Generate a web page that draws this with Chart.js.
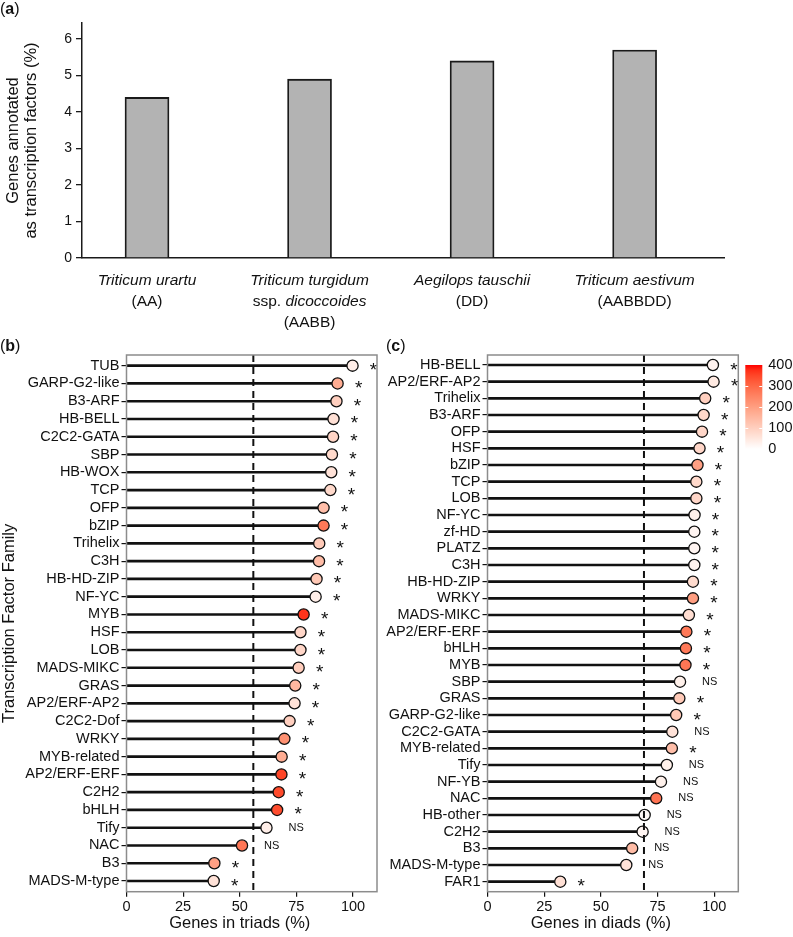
<!DOCTYPE html>
<html>
<head>
<meta charset="utf-8">
<script src="https://cdn.jsdelivr.net/npm/chart.js@4.4.1/dist/chart.umd.min.js"></script>
<style>
  body { margin: 0; background: #fff; font-family: 'Liberation Sans', Arial, sans-serif; }
  #fig { position: relative; width: 793px; height: 937px; background: #fff; }
  .panel { position: absolute; }
  .tag { position: absolute; font-size: 16px; line-height: 18px; color: #111; z-index: 2; }
</style>
</head>
<body>
<div id="fig">
  <div class="panel" style="left:0;top:0;width:793px;height:335px"><canvas id="chartA"></canvas></div>
  <div class="panel" style="left:0;top:335px;width:395px;height:602px"><canvas id="chartB"></canvas></div>
  <div class="panel" style="left:380px;top:335px;width:413px;height:602px"><canvas id="chartC"></canvas></div>
  <div class="tag" style="left:0;top:0">(<b>a</b>)</div>
  <div class="tag" style="left:0;top:337px">(<b>b</b>)</div>
  <div class="tag" style="left:386px;top:337px">(<b>c</b>)</div>
</div>
<script>
// panel (a): share of genes annotated as transcription factors
const speciesLabels = [
  [[['Triticum urartu', true]], [['(AA)', false]]],
  [[['Triticum turgidum', true]], [['ssp. ', false], ['dicoccoides', true]], [['(AABB)', false]]],
  [[['Aegilops tauschii', true]], [['(DD)', false]]],
  [[['Triticum aestivum', true]], [['(AABBDD)', false]]]
];
const tfShare = [4.4, 4.9, 5.4, 5.7];
const shareTicks = [0, 1, 2, 3, 4, 5, 6];

// panel (b): genes in triads
const familiesB = ['TUB', 'GARP-G2-like', 'B3-ARF', 'HB-BELL', 'C2C2-GATA', 'SBP', 'HB-WOX', 'TCP', 'OFP', 'bZIP',
  'Trihelix', 'C3H', 'HB-HD-ZIP', 'NF-YC', 'MYB', 'HSF', 'LOB', 'MADS-MIKC', 'GRAS', 'AP2/ERF-AP2',
  'C2C2-Dof', 'WRKY', 'MYB-related', 'AP2/ERF-ERF', 'C2H2', 'bHLH', 'Tify', 'NAC', 'B3', 'MADS-M-type'];
const triadPct = [99.8, 93.2, 92.7, 91.4, 91.2, 90.7, 90.4, 90.0, 87.0, 87.0,
  85.1, 85.0, 83.9, 83.5, 78.2, 76.8, 76.8, 76.0, 74.5, 74.2,
  72.0, 69.7, 68.5, 68.4, 67.2, 66.5, 61.8, 51.0, 38.8, 38.5];
const triadCount = [35, 170, 100, 65, 90, 80, 60, 80, 135, 270,
  110, 140, 115, 35, 370, 85, 85, 105, 150, 60,
  100, 225, 170, 350, 345, 340, 35, 275, 195, 60];
const triadSig = ['*', '*', '*', '*', '*', '*', '*', '*', '*', '*',
  '*', '*', '*', '*', '*', '*', '*', '*', '*', '*',
  '*', '*', '*', '*', '*', '*', 'NS', 'NS', '*', '*'];
const triadRef = 56;

// panel (c): genes in diads
const familiesC = ['HB-BELL', 'AP2/ERF-AP2', 'Trihelix', 'B3-ARF', 'OFP', 'HSF', 'bZIP', 'TCP', 'LOB', 'NF-YC',
  'zf-HD', 'PLATZ', 'C3H', 'HB-HD-ZIP', 'WRKY', 'MADS-MIKC', 'AP2/ERF-ERF', 'bHLH', 'MYB', 'SBP',
  'GRAS', 'GARP-G2-like', 'C2C2-GATA', 'MYB-related', 'Tify', 'NF-YB', 'NAC', 'HB-other', 'C2H2', 'B3',
  'MADS-M-type', 'FAR1'];
const diadPct = [99.4, 99.7, 96.0, 95.3, 94.6, 93.5, 92.6, 92.1, 92.1, 91.3,
  91.2, 91.2, 91.2, 90.6, 90.6, 88.8, 87.7, 87.5, 87.3, 84.9,
  84.6, 83.2, 81.5, 81.3, 79.1, 76.5, 74.4, 69.3, 68.4, 63.8,
  61.2, 32.1];
const diadCount = [25, 45, 100, 80, 85, 85, 195, 80, 85, 30,
  20, 20, 25, 75, 200, 70, 270, 270, 275, 30,
  110, 115, 60, 135, 30, 30, 280, 10, 20, 140,
  60, 65];
const diadSig = ['*', '*', '*', '*', '*', '*', '*', '*', '*', '*',
  '*', '*', '*', '*', '*', '*', '*', '*', '*', 'NS',
  '*', '*', 'NS', '*', 'NS', 'NS', 'NS', 'NS', 'NS', 'NS',
  'NS', '*'];
const diadRef = 69;

const pctTicks = [0, 25, 50, 75, 100];
const countTicks = [0, 100, 200, 300, 400];
const countMax = 400;

const ink = '#111';
Chart.defaults.font.family = "'Liberation Sans', Arial, sans-serif";
Chart.defaults.color = ink;

// white -> red, interpolated in Lab like ggplot's gradient
function countColor(n) {
  const t = Math.max(0, Math.min(1, n / countMax));
  const L = 100 + (53.24 - 100) * t, A = 80.09 * t, B = 67.2 * t;
  const fy = (L + 16) / 116, fx = fy + A / 500, fz = fy - B / 200;
  const inv = v => v ** 3 > 0.008856 ? v ** 3 : (v - 16 / 116) / 7.787;
  const X = 0.95047 * inv(fx), Y = inv(fy), Z = 1.08883 * inv(fz);
  const lin = [3.2406 * X - 1.5372 * Y - 0.4986 * Z,
    -0.9689 * X + 1.8758 * Y + 0.0415 * Z,
    0.0557 * X - 0.2040 * Y + 1.0570 * Z];
  const rgb = lin.map(c => {
    c = c > 0.0031308 ? 1.055 * Math.pow(c, 1 / 2.4) - 0.055 : 12.92 * c;
    return Math.round(Math.min(1, Math.max(0, c)) * 255);
  });
  return 'rgb(' + rgb.join(',') + ')';
}

// species names under the bars, italic where needed
const speciesLabelPlugin = {
  id: 'speciesLabels',
  afterDraw(chart) {
    const { ctx, chartArea, scales: { x } } = chart;
    const font = it => (it ? 'italic ' : '') + "15.5px 'Liberation Sans', Arial, sans-serif";
    ctx.save();
    ctx.fillStyle = ink;
    ctx.textBaseline = 'middle';
    ctx.textAlign = 'left';
    speciesLabels.forEach((lines, i) => {
      const cx = x.getPixelForValue(i + 1);
      lines.forEach((segs, j) => {
        const cy = chartArea.bottom + 23 + j * 21;
        let w = 0;
        segs.forEach(([t, it]) => { ctx.font = font(it); w += ctx.measureText(t).width; });
        let sx = cx - w / 2;
        segs.forEach(([t, it]) => {
          ctx.font = font(it);
          ctx.fillText(t, sx, cy);
          sx += ctx.measureText(t).width;
        });
      });
    });
    ctx.restore();
  }
};

// reference line, panel box, significance marks and x title
const lollipopDecor = {
  id: 'lollipopDecor',
  afterDatasetsDraw(chart, args, opts) {
    const { ctx, chartArea: a, scales: { x, y } } = chart;
    ctx.save();
    const rx = x.getPixelForValue(opts.ref);
    ctx.strokeStyle = ink;
    ctx.lineWidth = 2;
    ctx.setLineDash([7, 5]);
    ctx.beginPath();
    ctx.moveTo(rx, a.top);
    ctx.lineTo(rx, a.bottom);
    ctx.stroke();
    ctx.setLineDash([]);

    ctx.fillStyle = ink;
    ctx.font = "19px 'Liberation Sans', Arial, sans-serif";
    const m = ctx.measureText('*');
    const starShift = (m.actualBoundingBoxAscent - m.actualBoundingBoxDescent) / 2 + 1;
    opts.values.forEach((v, i) => {
      const px = x.getPixelForValue(v), py = y.getPixelForValue(i);
      if (opts.sig[i] === '*') {
        ctx.font = "19px 'Liberation Sans', Arial, sans-serif";
        ctx.textAlign = 'center';
        ctx.textBaseline = 'alphabetic';
        ctx.fillText('*', px + 21, py + starShift);
      } else {
        ctx.font = "11px 'Liberation Sans', Arial, sans-serif";
        ctx.textAlign = 'left';
        ctx.textBaseline = 'middle';
        ctx.fillText(opts.sig[i], px + 22, py);
      }
    });
    ctx.restore();
  },
  afterDraw(chart, args, opts) {
    const { ctx, chartArea: a, scales: { x } } = chart;
    ctx.save();
    ctx.strokeStyle = '#8c8c8c';
    ctx.lineWidth = 1.5;
    ctx.strokeRect(a.left, a.top, a.width, a.height);
    ctx.fillStyle = ink;
    ctx.font = "16.5px 'Liberation Sans', Arial, sans-serif";
    ctx.textAlign = 'center';
    ctx.textBaseline = 'middle';
    ctx.fillText(opts.title, x.getPixelForValue(50), a.bottom + 32);
    ctx.restore();
  }
};

// colour bar for the gene counts
const countLegend = {
  id: 'countLegend',
  afterDraw(chart) {
    const { ctx, chartArea: a } = chart;
    const bx = a.right + 7, bw = 17;
    const yOf = v => a.top + 10 + (countMax - v) * 0.21;
    ctx.save();
    const g = ctx.createLinearGradient(0, yOf(countMax), 0, yOf(0));
    for (let v = countMax; v >= 0; v -= 25) g.addColorStop((countMax - v) / countMax, countColor(v));
    ctx.fillStyle = g;
    ctx.fillRect(bx, yOf(countMax), bw, yOf(0) - yOf(countMax));
    ctx.strokeStyle = '#fff';
    ctx.lineWidth = 1;
    ctx.font = "14.5px 'Liberation Sans', Arial, sans-serif";
    ctx.textAlign = 'left';
    ctx.textBaseline = 'middle';
    countTicks.forEach(v => {
      const ty = Math.round(yOf(v)) + 0.5;
      if (v > 0 && v < countMax) {
        ctx.beginPath();
        ctx.moveTo(bx, ty); ctx.lineTo(bx + 3, ty);
        ctx.moveTo(bx + bw - 3, ty); ctx.lineTo(bx + bw, ty);
        ctx.stroke();
      }
      ctx.fillStyle = ink;
      ctx.fillText(String(v), bx + bw + 6, yOf(v));
    });
    ctx.restore();
  }
};

new Chart(document.getElementById('chartA'), {
  type: 'bar',
  data: {
    datasets: [{
      data: tfShare.map((v, i) => ({ x: i + 1, y: v })),
      backgroundColor: '#b3b3b3',
      borderColor: '#1a1a1a',
      borderWidth: 1.8,
      barThickness: 44
    }]
  },
  options: {
    responsive: true,
    maintainAspectRatio: false,
    animation: false,
    layout: { padding: { top: 23, right: 69, left: 0, bottom: 0 } },
    plugins: { legend: { display: false }, tooltip: { enabled: false } },
    scales: {
      x: {
        type: 'linear', min: 0.6, max: 4.55, offset: false,
        grid: { drawOnChartArea: false, drawTicks: false, offset: false },
        border: { color: '#1a1a1a', width: 1.5 },
        ticks: { display: false },
        afterFit: s => { s.height = 77; }
      },
      y: {
        min: 0, max: 6.44,
        afterBuildTicks: s => { s.ticks = shareTicks.map(v => ({ value: v })); },
        grid: { drawOnChartArea: false, tickLength: 6, color: '#1a1a1a', lineWidth: 1.3 },
        border: { color: '#1a1a1a', width: 1.5 },
        ticks: { font: { size: 14 }, color: ink, padding: 4 },
        title: {
          display: true,
          text: ['Genes annotated', 'as transcription factors (%)'],
          font: { size: 16.5, lineHeight: 1.12 },
          color: ink,
          padding: { top: 4, bottom: 0 }
        },
        afterFit: s => { s.width = 82; }
      }
    }
  },
  plugins: [speciesLabelPlugin]
});

function lollipopChart(id, families, values, counts, sig, ref, title, yTitle, yWidth, padRight, extra) {
  return new Chart(document.getElementById(id), {
    type: 'bar',
    data: {
      datasets: [{
        type: 'bar',
        data: values.map((v, i) => ({ x: v, y: i })),
        backgroundColor: ink,
        borderWidth: 0,
        barThickness: 2,
        order: 2
      }, {
        type: 'scatter',
        data: values.map((v, i) => ({ x: v, y: i })),
        pointRadius: 5.6,
        pointBackgroundColor: counts.map(countColor),
        pointBorderColor: ink,
        pointBorderWidth: 1.3,
        order: 1
      }]
    },
    options: {
      indexAxis: 'y',
      responsive: true,
      maintainAspectRatio: false,
      animation: false,
      layout: { padding: { top: 20, right: padRight, left: 0, bottom: 0 } },
      plugins: {
        legend: { display: false },
        tooltip: { enabled: false },
        lollipopDecor: { ref: ref, values: values, sig: sig, title: title }
      },
      scales: {
        x: {
          type: 'linear', min: 0, max: 110.6, offset: false,
          afterBuildTicks: s => { s.ticks = pctTicks.map(v => ({ value: v })); },
          grid: { drawOnChartArea: false, tickLength: 5, color: ink, lineWidth: 1.2, offset: false },
          border: { display: false },
          ticks: { font: { size: 14.5 }, color: ink, padding: 2, autoSkip: false, maxRotation: 0 },
          afterFit: s => { s.height = 45.3; }
        },
        y: {
          type: 'linear', reverse: true, min: -0.6, max: families.length - 0.4, offset: false,
          afterBuildTicks: s => { s.ticks = families.map((f, i) => ({ value: i })); },
          grid: { drawOnChartArea: false, tickLength: 5, color: ink, lineWidth: 1.2, offset: false },
          border: { display: false },
          ticks: { callback: v => families[v], font: { size: 14.5 }, color: ink, padding: 2, autoSkip: false },
          title: { display: !!yTitle, text: yTitle, font: { size: 16.5 }, color: ink, padding: { top: 0, bottom: 0 } },
          afterFit: s => { s.width = yWidth; }
        }
      }
    },
    plugins: [lollipopDecor].concat(extra)
  });
}

lollipopChart('chartB', familiesB, triadPct, triadCount, triadSig, triadRef,
  'Genes in triads (%)', 'Transcription Factor Family', 126.5, 18, []);
lollipopChart('chartC', familiesC, diadPct, diadCount, diadSig, diadRef,
  'Genes in diads (%)', '', 107.5, 54.7, [countLegend]);
</script>
</body>
</html>
